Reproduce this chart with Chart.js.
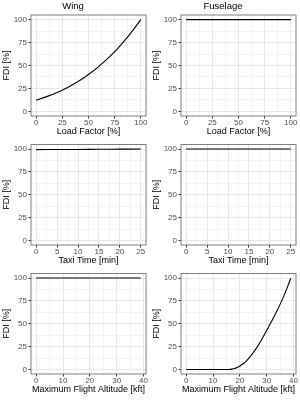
<!DOCTYPE html>
<html>
<head>
<meta charset="utf-8">
<script src="https://cdn.jsdelivr.net/npm/chart.js@4.4.1/dist/chart.umd.min.js"></script>
<style>
  body { margin: 0; background: #fff; }
  #wrap { position: relative; width: 300px; height: 400px; overflow: hidden; }
  canvas { position: absolute; }
</style>
</head>
<body>
<div id="wrap">
  <canvas id="wingLoad"></canvas>
  <canvas id="fuseLoad"></canvas>
  <canvas id="wingTaxi"></canvas>
  <canvas id="fuseTaxi"></canvas>
  <canvas id="wingAlt"></canvas>
  <canvas id="fuseAlt"></canvas>
</div>
<script>
// data
const loadFactor = [0, 10, 20, 30, 40, 50, 60, 70, 80, 90, 100];
const wingLoadFDI = [12.3, 16.1, 20.6, 26.1, 32.5, 40.2, 49.1, 59.3, 71.2, 84.7, 100];
const fuseLoadFDI = [100, 100, 100, 100, 100, 100, 100, 100, 100, 100, 100];

const taxiTime = [0, 5, 10, 15, 20, 25];
const wingTaxiFDI = [99.4, 99.5, 99.6, 99.8, 99.9, 100];
const fuseTaxiFDI = [100, 100, 100, 100, 100, 100];

const altitude = [0, 5, 10, 14, 16, 17, 18, 19, 20, 22, 24, 26, 28, 30, 32, 34, 36, 38, 39];
const wingAltFDI = [100, 100, 100, 100, 100, 100, 100, 100, 100, 100, 100, 100, 100, 100, 100, 100, 100, 100, 100];
const fuseAltFDI = [0, 0, 0, 0, 0, 0.3, 1, 2.2, 3.8, 8, 14.5, 22.5, 32, 42.5, 53.5, 65, 77.5, 92, 100];

const fdiTicks = [0, 12.5, 25, 37.5, 50, 62.5, 75, 87.5, 100];
const loadTicks = [0, 12.5, 25, 37.5, 50, 62.5, 75, 87.5, 100];
const taxiTicks = [0, 2.5, 5, 7.5, 10, 12.5, 15, 17.5, 20, 22.5, 25];
const altTicks = [0, 5, 10, 15, 20, 25, 30, 35, 40];

Chart.defaults.font.family = '"Liberation Sans", Arial, sans-serif';

const panelBorder = {
  id: 'panelBorder',
  afterDraw(chart) {
    const { ctx, chartArea: a } = chart;
    ctx.save();
    ctx.strokeStyle = '#7f7f7f';
    ctx.lineWidth = 1;
    ctx.strokeRect(a.left, a.top, a.right - a.left, a.bottom - a.top);
    ctx.restore();
  }
};

function gridFor(major) {
  const isMajor = c => c.tick && c.tick.value % major === 0;
  return {
    color: c => isMajor(c) ? '#e6e6e6' : '#f3f3f3',
    lineWidth: 1,
    drawTicks: true,
    tickLength: 2.5,
    tickColor: c => isMajor(c) ? '#333333' : 'rgba(0,0,0,0)'
  };
}

function makePanel(id, p) {
  const cv = document.getElementById(id);
  cv.width = 150;
  cv.height = p.height;
  cv.style.left = p.left + 'px';
  cv.style.top = p.top + 'px';

  new Chart(cv, {
    type: 'scatter',
    data: {
      datasets: [{
        data: p.xs.map((x, i) => ({ x: x, y: p.ys[i] })),
        showLine: true,
        borderColor: '#000000',
        borderWidth: 1.1,
        pointRadius: 0,
        cubicInterpolationMode: 'monotone'
      }]
    },
    options: {
      responsive: false,
      animation: false,
      events: [],
      layout: { padding: { top: p.padTop, right: 4, left: 0, bottom: 0 } },
      plugins: {
        legend: { display: false },
        tooltip: { enabled: false },
        title: {
          display: !!p.title,
          text: p.title || '',
          color: '#000000',
          font: { size: 9.5, weight: 'normal', lineHeight: 1.2 },
          padding: { top: 1, bottom: 2.6 }
        }
      },
      scales: {
        x: {
          type: 'linear',
          min: p.xMin,
          max: p.xMax,
          afterBuildTicks: s => { s.ticks = p.xTicks.map(v => ({ value: v })); },
          afterFit: s => { s.height = 21; },
          grid: gridFor(p.xMajor),
          border: { display: false },
          ticks: {
            autoSkip: false,
            maxRotation: 0,
            padding: 0,
            color: '#4d4d4d',
            font: { size: 8, lineHeight: 1 },
            callback: v => v % p.xMajor === 0 ? String(v) : ''
          },
          title: {
            display: true,
            text: p.xTitle,
            color: '#000000',
            font: { size: 9, lineHeight: 1.2 },
            padding: { top: 0, bottom: 0 }
          }
        },
        y: {
          type: 'linear',
          min: -5,
          max: 105,
          afterBuildTicks: s => { s.ticks = fdiTicks.map(v => ({ value: v })); },
          afterFit: s => { s.width = 31; },
          grid: gridFor(25),
          border: { display: false },
          ticks: {
            autoSkip: false,
            padding: 1.5,
            color: '#4d4d4d',
            font: { size: 8 },
            callback: v => v % 25 === 0 ? String(v) : ''
          },
          title: {
            display: true,
            text: 'FDI [%]',
            color: '#000000',
            font: { size: 9, lineHeight: 1.2 },
            padding: { top: 0.8, bottom: 0 }
          }
        }
      }
    },
    plugins: [panelBorder]
  });
}

const rows = [
  { top: 0, height: 137, padTop: 0 },
  { top: 130, height: 136, padTop: 14.5 },
  { top: 260, height: 135.5, padTop: 13.5 }
];

makePanel('wingLoad', Object.assign({}, rows[0], { left: 0, title: 'Wing', xTitle: 'Load Factor [%]',
  xMin: -5, xMax: 105, xTicks: loadTicks, xMajor: 25, xs: loadFactor, ys: wingLoadFDI }));
makePanel('fuseLoad', Object.assign({}, rows[0], { left: 150, title: 'Fuselage', xTitle: 'Load Factor [%]',
  xMin: -5, xMax: 105, xTicks: loadTicks, xMajor: 25, xs: loadFactor, ys: fuseLoadFDI }));
makePanel('wingTaxi', Object.assign({}, rows[1], { left: 0, xTitle: 'Taxi Time [min]',
  xMin: -1.25, xMax: 26.25, xTicks: taxiTicks, xMajor: 5, xs: taxiTime, ys: wingTaxiFDI }));
makePanel('fuseTaxi', Object.assign({}, rows[1], { left: 150, xTitle: 'Taxi Time [min]',
  xMin: -1.25, xMax: 26.25, xTicks: taxiTicks, xMajor: 5, xs: taxiTime, ys: fuseTaxiFDI }));
makePanel('wingAlt', Object.assign({}, rows[2], { left: 0, xTitle: 'Maximum Flight Altitude [kft]',
  xMin: -1.95, xMax: 40.95, xTicks: altTicks, xMajor: 10, xs: altitude, ys: wingAltFDI }));
makePanel('fuseAlt', Object.assign({}, rows[2], { left: 150, xTitle: 'Maximum Flight Altitude [kft]',
  xMin: -1.95, xMax: 40.95, xTicks: altTicks, xMajor: 10, xs: altitude, ys: fuseAltFDI }));
</script>
</body>
</html>
